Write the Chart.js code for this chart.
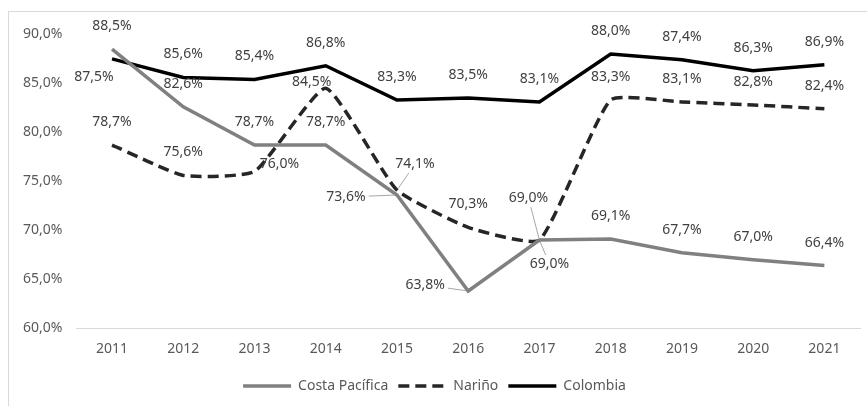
<!DOCTYPE html>
<html>
<head>
<meta charset="utf-8">
<script src="https://cdn.jsdelivr.net/npm/chart.js@4"></script>
<style>
  body { margin: 0; background: #fff; overflow: hidden; }
  #frame {
    position: absolute; left: 8px; top: 11px;
    width: 860px; height: 400px;
    border: 1px solid #d9d9d9;
  }
  #myChart { display: block; }
</style>
</head>
<body>
<div id="frame"><canvas id="myChart" width="858" height="391"></canvas></div>
<script>
const years = ["2011", "2012", "2013", "2014", "2015", "2016", "2017", "2018", "2019", "2020", "2021"];
const costaPacifica = [88.5, 82.6, 78.7, 78.7, 73.6, 63.8, 69.0, 69.1, 67.7, 67.0, 66.4];
const narino = [78.7, 75.6, 76.0, 84.5, 74.1, 70.3, 69.0, 83.3, 83.1, 82.8, 82.4];
const colombia = [87.5, 85.6, 85.4, 86.8, 83.3, 83.5, 83.1, 88.0, 87.4, 86.3, 86.9];
const yTicks = [60, 65, 70, 75, 80, 85, 90];

const fmt = (v) => v.toFixed(1).replace(".", ",") + "%";
const FONT = "'Noto Sans', sans-serif";

// label placement: [dx, dy, leader line] relative to the point, default is above
const labelMoves = [
  { 4: [-51, 2, true], 5: [-43, -6, true], 6: [10, 24, true] },
  { 2: [25, -7], 3: [-14, -6], 4: [18, -26, true], 6: [-11, -42, true] },
  { 0: [-18, 18] },
];

const pointLabels = {
  id: "pointLabels",
  afterDatasetsDraw(chart) {
    const ctx = chart.ctx;
    ctx.save();
    ctx.font = "14px " + FONT;
    ctx.textAlign = "center";
    ctx.textBaseline = "middle";
    chart.data.datasets.forEach((ds, di) => {
      const meta = chart.getDatasetMeta(di);
      meta.data.forEach((pt, i) => {
        const mv = labelMoves[di][i] || [0, -23];
        const lx = pt.x + mv[0];
        const ly = pt.y + mv[1];
        const text = fmt(ds.data[i]);
        if (mv[2]) {
          const hw = ctx.measureText(text).width / 2 + 3;
          const hh = 9;
          const vx = pt.x - lx, vy = pt.y - ly;
          const t = Math.min(vx ? hw / Math.abs(vx) : 99, vy ? hh / Math.abs(vy) : 99);
          const len = Math.hypot(vx, vy);
          if (t < 1) {
            ctx.strokeStyle = "#a6a6a6";
            ctx.lineWidth = 1;
            ctx.beginPath();
            ctx.moveTo(lx + vx * t, ly + vy * t);
            ctx.lineTo(pt.x - vx / len * 2, pt.y - vy / len * 2);
            ctx.stroke();
          }
        }
        ctx.fillStyle = "#404040";
        ctx.fillText(text, lx, ly);
      });
    });
    ctx.restore();
  },
};

const ctx = document.getElementById("myChart").getContext("2d");

const lineChart = new Chart(ctx, {
  type: "line",
  data: {
    labels: years,
    datasets: [
      {
        label: "Costa Pacífica",
        data: costaPacifica,
        borderColor: "#808080",
        backgroundColor: "#808080",
        borderWidth: 3.5,
        pointRadius: 0,
        tension: 0,
      },
      {
        label: "Nariño",
        data: narino,
        borderColor: "#262626",
        backgroundColor: "#262626",
        borderWidth: 3.5,
        borderDash: [11, 6],
        pointRadius: 0,
        tension: 0.15,
      },
      {
        label: "Colombia",
        data: colombia,
        borderColor: "#000000",
        backgroundColor: "#000000",
        borderWidth: 3.5,
        pointRadius: 0,
        tension: 0,
      },
    ],
  },
  options: {
    responsive: false,
    animation: false,
    layout: { padding: { left: 0, right: 7, top: 21, bottom: 0 } },
    plugins: {
      tooltip: { enabled: false },
      legend: {
        position: "bottom",
        labels: {
          usePointStyle: true,
          pointStyle: "line",
          pointStyleWidth: 48,
          boxWidth: 48,
          padding: 10,
          color: "#595959",
          font: { family: FONT, size: 14 },
          generateLabels: (chart) =>
            chart.data.datasets.map((ds, i) => ({
              text: ds.label,
              strokeStyle: ds.borderColor,
              fillStyle: ds.borderColor,
              lineWidth: ds.borderWidth,
              lineDash: ds.borderDash || [],
              pointStyle: "line",
              fontColor: "#595959",
              hidden: false,
              datasetIndex: i,
            })),
        },
      },
    },
    scales: {
      x: {
        offset: true,
        grid: { display: false, drawTicks: false },
        border: { display: true, color: "#d9d9d9", width: 1 },
        ticks: { color: "#595959", padding: 12, font: { family: FONT, size: 14 } },
      },
      y: {
        min: 60,
        max: 90,
        afterFit(scale) { scale.width = 67.4; },
        afterBuildTicks(scale) { scale.ticks = yTicks.map((v) => ({ value: v })); },
        grid: { display: false, drawTicks: false },
        border: { display: false },
        ticks: {
          color: "#595959",
          padding: 14,
          font: { family: FONT, size: 14 },
          callback: (v) => fmt(v),
        },
      },
    },
  },
  plugins: [pointLabels],
});
</script>
</body>
</html>
